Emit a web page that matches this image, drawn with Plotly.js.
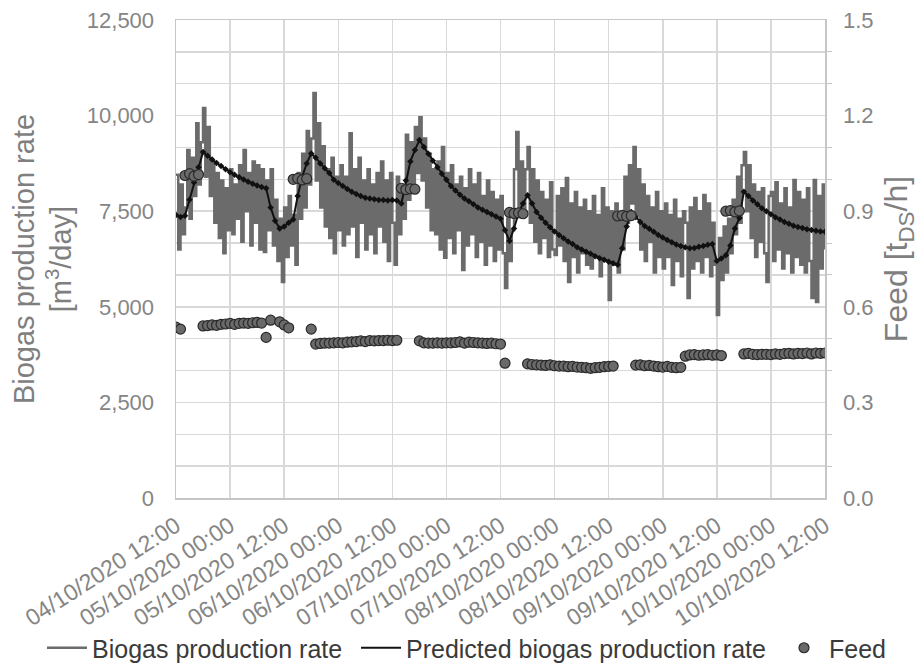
<!DOCTYPE html>
<html>
<head>
<meta charset="utf-8">
<script src="https://cdn.plot.ly/plotly-3.0.1.min.js"></script>
<style>html,body{margin:0;padding:0;background:#fff;}#chart{width:920px;height:666px;}</style>
</head>
<body>
<div id="chart"></div>
<script>
// Biogas production rate (m3/day), every 30 minutes from 04/10/2020 12:00
const biogasRate = [
8450,6500,8200,6900,7600,9100,7300,8900,7900,9800,8200,9300,
10200,8400,9700,7900,8800,7200,8500,6800,8300,6400,8100,7000,
8600,6900,8200,7300,8700,6700,9100,7500,8500,6600,8800,7200,
8700,6500,8600,6430,8300,7000,8600,6600,7800,6200,7300,5650,
7600,6300,7900,6600,7400,6100,8500,7300,9000,7600,9600,8200,
9400,10590,8300,9800,7600,9200,7100,8600,6800,8900,6400,8400,
7000,8700,6600,8400,6900,9540,7100,8600,6300,8900,7200,8300,
6500,8600,6900,8200,6400,8500,7100,8800,6700,8300,6200,8500,
7200,6100,8400,6900,8000,7300,9500,7800,9300,8200,9700,8500,
9960,8300,9400,7600,9000,7000,8600,6900,8800,6500,9180,6280,
8500,6800,8700,6400,8200,7000,8400,5960,8100,6600,8600,6900,
8200,6300,8500,6700,7900,6100,8300,6600,8000,6200,7800,6500,
7900,6400,5490,7300,6200,7000,8600,9570,7600,8800,7400,8600,
9180,7200,8600,6700,8300,6400,8000,6800,7800,6300,8260,6500,
6355,7900,6600,8100,6200,8370,5650,7700,6300,8000,5900,7600,
6400,7800,6100,7500,6000,7900,6300,7400,5800,8100,6200,7600,
5178,7500,6100,7700,5900,7300,6500,8400,7200,8700,7700,9180,
7400,8600,6500,8200,6200,7900,6700,7600,5900,8000,6300,7500,
6000,7700,6300,7400,5570,7800,6200,7300,5800,7500,7200,5230,
7600,6000,7845,6200,7500,5900,7924,6300,7700,5800,7200,6100,
4786,6800,5700,7100,5900,7300,6400,7800,6900,8400,7200,8700,
9050,7500,8700,6800,8200,6300,8000,6700,8100,6400,5650,7900,
8000,6200,8260,6500,7700,6000,8100,6400,7600,5900,8316,6300,
8000,6100,7800,5900,8100,6200,5230,8316,5125,7900,6000,8200,
6500
];

// Predicted biogas production rate (m3/day), hourly
const predictedRate = [
7400,7350,7380,7800,8250,8650,9050,8950,8850,8760,8680,8600,
8520,8450,8390,8330,8270,8220,8170,8130,8100,7600,7250,7050,
7100,7200,7280,7900,8400,8750,9010,8900,8750,8620,8500,8320,
8240,8160,8080,8010,7950,7900,7850,7830,7810,7790,7790,7780,
7790,7780,7700,8300,8800,9100,9360,9180,9000,8820,8650,8480,
8320,8160,8040,7930,7830,7760,7680,7600,7540,7480,7420,7360,
7300,7000,6720,7050,7450,7700,7920,7700,7480,7330,7200,7080,
6970,6880,6790,6710,6640,6560,6500,6440,6390,6320,6270,6230,
6180,6140,6100,6530,7100,7480,7350,7220,7110,7040,6960,6880,
6810,6750,6690,6630,6590,6560,6530,6540,6570,6590,6620,6640,
6200,6260,6350,6600,7050,7320,8010,7900,7780,7680,7580,7500,
7420,7340,7280,7220,7170,7120,7090,7060,7030,7010,6990,6970,
6960
];

// Feed (tDS/h), hourly
const feed = [
0.536,0.530,1.012,1.018,1.010,1.015,0.540,0.541,0.543,0.542,0.545,0.546,
0.548,0.545,0.548,0.549,0.548,0.550,0.551,0.549,0.504,0.558,null,0.553,
0.543,0.534,1.000,1.003,0.998,1.002,0.530,0.483,0.485,0.486,0.486,0.487,
0.488,0.487,0.489,0.490,0.491,0.493,0.491,0.494,0.493,0.494,0.494,0.495,
0.494,0.495,0.972,0.968,0.970,0.969,0.493,0.487,0.486,0.486,0.487,0.486,
0.487,0.487,0.488,0.490,0.486,0.489,0.488,0.487,0.486,0.485,0.486,0.484,
0.483,0.423,0.896,0.893,0.895,0.892,0.421,0.419,0.418,0.417,0.416,0.418,
0.415,0.414,0.414,0.412,0.413,0.411,0.410,0.409,0.407,0.409,0.410,0.412,
0.413,0.414,0.885,0.887,0.884,0.886,0.417,0.418,0.415,0.416,0.414,0.412,
0.411,0.413,0.410,0.409,0.410,0.445,0.449,0.450,0.448,0.449,0.450,0.448,
0.449,0.447,0.900,0.902,0.898,0.901,0.452,0.454,0.451,0.450,0.451,0.451,
0.450,0.452,0.451,0.453,0.454,0.452,0.454,0.453,0.455,0.452,0.455,0.454,
0.455
];

const seriesNames = ['Biogas production rate', 'Predicted biogas production rate', 'Feed'];
const startTime = Date.UTC(2020, 9, 4, 12, 0);
const halfHour = 1800000, hour = 3600000;
const tBiogas = biogasRate.map((_, i) => startTime + i * halfHour);
const tHourly = predictedRate.map((_, i) => startTime + i * hour);
const tFeed = feed.map((_, i) => startTime + i * hour);

const tickGray = '#858585';
const gridGray = '#d9d9d9';
const lineGray = '#c6c6c6';
const font = 'Liberation Sans, Arial, sans-serif';
const legendFont = {size: 25, color: '#3a3a3a', family: font};

function legendAt(px) {
  return {orientation: 'h', xref: 'container', yref: 'container', x: px / 920, xanchor: 'left',
          y: 18 / 666, yanchor: 'middle', font: legendFont, itemwidth: 40, tracegroupgap: 0,
          bgcolor: 'rgba(0,0,0,0)'};
}

const traces = [
  {x: tBiogas, y: biogasRate, type: 'scatter', mode: 'lines', name: seriesNames[0],
   line: {color: '#6b6b6b', width: 2.5, shape: 'hv'}, legend: 'legend'},
  {x: tHourly, y: predictedRate, type: 'scatter', mode: 'lines', name: seriesNames[1],
   line: {color: '#111111', width: 2}, legend: 'legend2'},
  {x: tHourly, y: predictedRate, type: 'scatter', mode: 'markers', showlegend: false, hoverinfo: 'skip',
   marker: {color: '#111111', size: 5, symbol: 'diamond'}},
  {x: tFeed, y: feed, type: 'scatter', mode: 'markers', name: seriesNames[2], yaxis: 'y2',
   marker: {color: '#6a6a6a', size: 10, line: {color: '#2a2a2a', width: 1.2}}, legend: 'legend3'}
];

const layout = {
  width: 920, height: 666,
  paper_bgcolor: '#ffffff', plot_bgcolor: '#ffffff',
  margin: {l: 176, r: 95, t: 20, b: 168},
  font: {family: font, color: tickGray},
  showlegend: true,
  legend: legendAt(42),
  legend2: legendAt(356),
  legend3: legendAt(779),
  xaxis: {
    type: 'date',
    range: ['2020-10-04 12:00', '2020-10-10 12:00'],
    tick0: '2020-10-04 12:00', dtick: 43200000,
    tickformat: '%d/%m/%Y %H:%M', tickangle: -33,
    tickfont: {size: 23, color: tickGray},
    showgrid: true, gridcolor: gridGray, gridwidth: 1.5,
    showline: true, linecolor: lineGray, linewidth: 1.5, mirror: true,
    ticks: '', ticklabelstandoff: 4, zeroline: false, automargin: false
  },
  yaxis: {
    range: [0, 12500], dtick: 2500, tickformat: ',',
    tickfont: {size: 22, color: tickGray},
    showgrid: false, zeroline: false,
    showline: true, linecolor: lineGray, linewidth: 1.5,
    ticks: '', ticklabelstandoff: 16, automargin: false,
    title: {text: 'Biogas production rate<br>[m<sup>3</sup>/day]', font: {size: 29, color: '#7f7f7f'}, standoff: 6}
  },
  yaxis2: {
    overlaying: 'y', side: 'right',
    range: [0, 1.5], dtick: 0.3, tickformat: '.1f',
    tickfont: {size: 22, color: tickGray},
    showgrid: true, gridcolor: gridGray, gridwidth: 1.5, zeroline: false,
    showline: true, linecolor: lineGray, linewidth: 1.5,
    ticks: '', ticklabelstandoff: 12, automargin: false,
    minor: {dtick: 0.1, showgrid: true, gridcolor: gridGray, gridwidth: 1.5, ticks: 'outside', ticklen: 5, tickcolor: lineGray},
    title: {text: 'Feed [t<sub>DS</sub>/h]', font: {size: 32, color: '#7f7f7f'}, standoff: 12}
  }
};

Plotly.newPlot('chart', traces, layout, {displayModeBar: false, staticPlot: true});
</script>
</body>
</html>
